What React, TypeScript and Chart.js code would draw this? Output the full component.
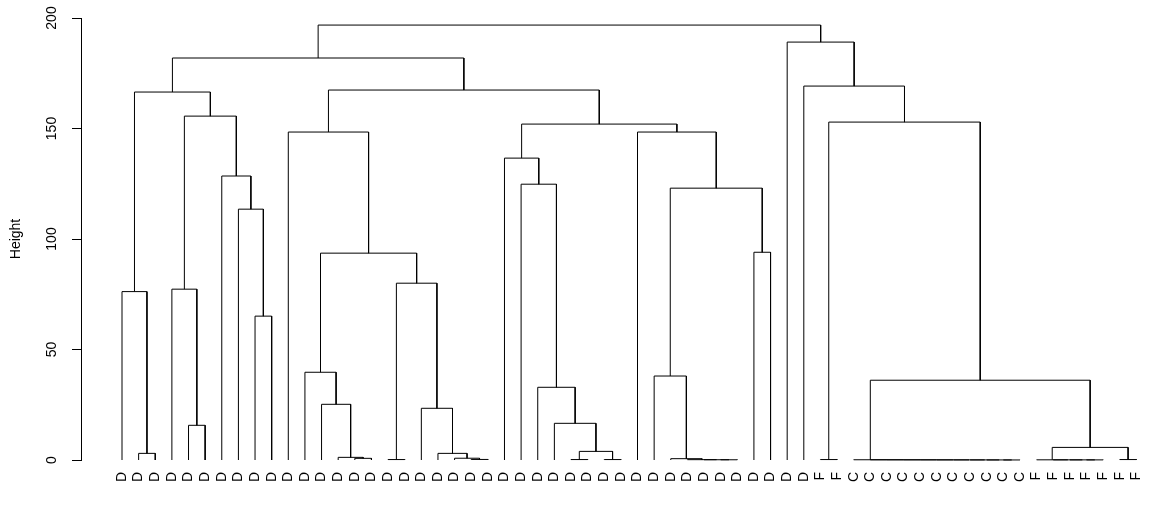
import { useEffect, useRef } from "react";
import { Chart, registerables } from "chart.js";

Chart.register(...registerables);

// Leaf labels in dendrogram order (left to right)
const leafLabels: string[] = [
  "D", "D", "D", "D", "D", "D", "D", "D", "D", "D",
  "D", "D", "D", "D", "D", "D", "D", "D", "D", "D",
  "D", "D", "D", "D", "D", "D", "D", "D", "D", "D",
  "D", "D", "D", "D", "D", "D", "D", "D", "D", "D",
  "D", "D", "F", "F", "C", "C", "C", "C", "C", "C",
  "C", "C", "C", "C", "C", "F", "F", "F", "F", "F",
  "F", "F",
];

// Merge steps (R hclust style): negative = leaf position (1-based), positive = earlier merge (1-based)
const mergePairs: [number, number][] = [
  [-17, -18], [-22, -23], [-28, -29], [-30, -31], [-37, -38],
  [-36, 5], [-35, 6], [-43, -44], [-54, -55], [-53, 9],
  [-52, 10], [-51, 11], [-50, 12], [-49, 13], [-48, 14],
  [-47, 15], [-46, 16], [-45, 17], [-59, -60], [-58, 19],
  [-57, 20], [-56, 21], [-61, -62], [-34, 7], [-15, -16],
  [-21, 2], [-14, 25], [-2, -3], [-20, 26], [3, 4],
  [22, 23], [-5, -6], [-27, 30], [-19, 29], [-13, 27],
  [-26, 33], [18, 31], [-33, 24], [-12, 35], [-9, -10],
  [-1, 28], [-4, 32], [1, 34], [39, 43], [-39, -40],
  [-8, 40], [38, 45], [-25, 36], [-7, 46], [-24, 48],
  [-11, 44], [-32, 47], [50, 52], [8, 37], [42, 49],
  [41, 55], [51, 53], [-42, 54], [56, 57], [-41, 58],
  [59, 60],
];

const mergeHeights: number[] = [
  0.2, 0.25, 0.2, 0.2, 0.1,
  0.12, 0.15, 0.2, 0.02, 0.03,
  0.04, 0.05, 0.06, 0.07, 0.08,
  0.09, 0.1, 0.11, 0.05, 0.06,
  0.07, 0.08, 0.2, 0.6, 0.75,
  0.8, 1.2, 3.0, 3.0, 3.9,
  5.7, 15.7, 16.6, 23.4, 25.2,
  32.9, 36.1, 38.0, 39.7, 65.1,
  76.2, 77.3, 80.0, 93.6, 94.0,
  113.5, 123.0, 124.8, 128.5, 136.6,
  148.4, 148.4, 152.0, 152.9, 155.6,
  166.5, 167.4, 169.2, 181.9, 189.1,
  196.8,
];

const yTicks: number[] = [0, 50, 100, 150, 200];

const FONT = "'Liberation Sans', Arial, 'DejaVu Sans', sans-serif";

function buildDatasets() {
  const nodeX: number[] = [];
  const nodeH: number[] = [];
  const pos = (c: number) => (c < 0 ? -c : nodeX[c - 1]);
  const ht = (c: number) => (c < 0 ? 0 : nodeH[c - 1]);
  return mergePairs.map(([a, b], i) => {
    const h = mergeHeights[i];
    const xa = pos(a);
    const xb = pos(b);
    nodeX[i] = (xa + xb) / 2;
    nodeH[i] = h;
    return {
      data: [
        { x: xa, y: ht(a) },
        { x: xa, y: h },
        { x: xb, y: h },
        { x: xb, y: ht(b) },
      ],
      showLine: true,
      borderColor: "#000000",
      borderWidth: 1,
      pointRadius: 0,
      pointHoverRadius: 0,
      pointHitRadius: 0,
      tension: 0,
      fill: false,
      clip: false as const,
    };
  });
}

export default function App() {
  const canvasRef = useRef<HTMLCanvasElement | null>(null);

  useEffect(() => {
    if (!canvasRef.current) return;
    const pxPerLeaf = (1136.4 - 122) / 61;
    const xMin = 1 - (122 - 81) / pxPerLeaf;
    const xMax = leafLabels.length + (1160 - 1136.4) / pxPerLeaf;

    const chart = new Chart(canvasRef.current, {
      type: "scatter",
      data: { datasets: buildDatasets() as any },
      options: {
        responsive: false,
        animation: false,
        events: [],
        layout: { padding: { top: 18, right: 2, bottom: 0, left: 0 } },
        plugins: {
          legend: { display: false },
          tooltip: { enabled: false },
          title: { display: false },
        },
        scales: {
          x: {
            type: "linear",
            min: xMin,
            max: xMax,
            afterBuildTicks: (scale: any) => {
              scale.ticks = leafLabels.map((_, i) => ({ value: i + 1 }));
            },
            afterFit: (scale: any) => {
              scale.height = 47;
              scale.paddingLeft = 0;
              scale.paddingRight = 0;
            },
            grid: { display: false, drawTicks: false },
            border: { display: false },
            ticks: {
              autoSkip: false,
              minRotation: 90,
              maxRotation: 90,
              padding: 12,
              color: "#000000",
              font: { family: FONT, size: 14 },
              callback: (v: any) => leafLabels[Math.round(Number(v)) - 1] ?? "",
            },
          },
          y: {
            type: "linear",
            min: 0,
            max: 200,
            afterBuildTicks: (scale: any) => {
              scale.ticks = yTicks.map((v) => ({ value: v }));
            },
            afterFit: (scale: any) => {
              scale.width = 81;
              scale.paddingTop = 0;
              scale.paddingBottom = 0;
            },
            grid: {
              display: true,
              drawOnChartArea: false,
              drawTicks: true,
              tickLength: 9,
              color: "#000000",
              lineWidth: 1,
            },
            border: { display: true, color: "#000000", width: 1 },
            title: {
              display: true,
              text: "Height",
              color: "#000000",
              font: { family: FONT, size: 14 },
              padding: { top: 8, bottom: 0 },
            },
            ticks: {
              minRotation: 90,
              maxRotation: 90,
              crossAlign: "center",
              padding: 8,
              color: "#000000",
              font: { family: FONT, size: 14 },
            },
          },
        },
      },
    });
    return () => chart.destroy();
  }, []);

  return (
    <div
      style={{
        position: "fixed",
        left: 0,
        top: 0,
        width: 1162,
        height: 507,
        background: "#ffffff",
      }}
    >
      <canvas ref={canvasRef} width={1162} height={507} />
    </div>
  );
}
